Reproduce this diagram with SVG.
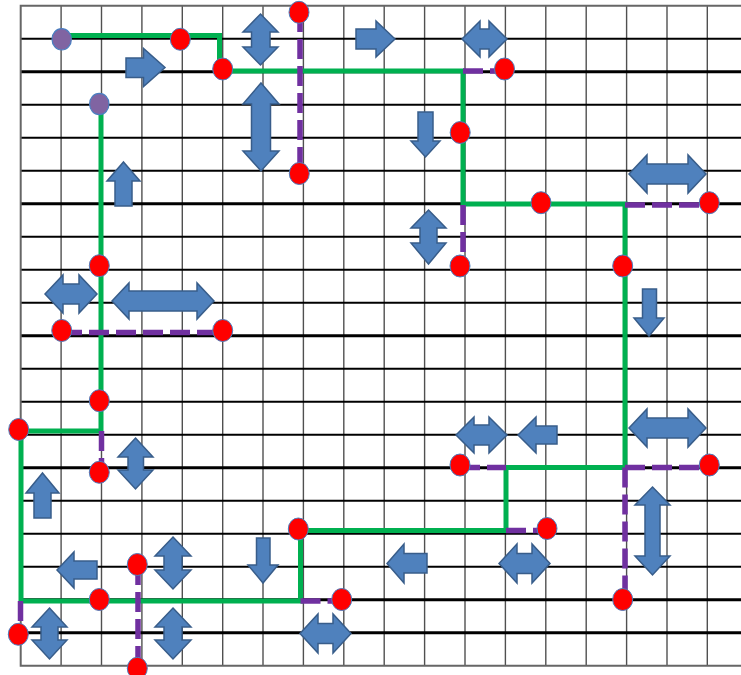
<svg xmlns="http://www.w3.org/2000/svg" width="741" height="675" viewBox="0 0 741 675">
  <defs>
    <style>
      .vline { stroke: #505050; stroke-width: 1.4; }
      .hline { stroke: #000000; stroke-width: 2; }
      .hbold { stroke: #000000; stroke-width: 3; }
      .border { stroke: #666666; stroke-width: 2; fill: none; }
      .route { fill: none; stroke: #00B050; stroke-width: 5; stroke-linejoin: miter; }
      .branch { fill: none; stroke: #7030A0; stroke-width: 5.5; stroke-dasharray: 20 7; }
      .stop { fill: #FF0000; stroke: #4A7EC0; stroke-width: 1; }
      .end { fill: #8064A2; stroke: #4A7EC0; stroke-width: 1.2; }
      .arr { fill: #4F81BD; stroke: #385D8A; stroke-width: 1.5; stroke-linejoin: miter; }
    </style>
  </defs>

  <rect width="741" height="675" fill="#ffffff"/>

  <!-- grid: 18 columns x 20 rows -->
  <g id="grid">
    <g class="vline">
      <line x1="61.1" y1="5.7" x2="61.1" y2="665.7"/>
      <line x1="101.5" y1="5.7" x2="101.5" y2="665.7"/>
      <line x1="141.9" y1="5.7" x2="141.9" y2="665.7"/>
      <line x1="182.3" y1="5.7" x2="182.3" y2="665.7"/>
      <line x1="222.7" y1="5.7" x2="222.7" y2="665.7"/>
      <line x1="263.0" y1="5.7" x2="263.0" y2="665.7"/>
      <line x1="303.4" y1="5.7" x2="303.4" y2="665.7"/>
      <line x1="343.8" y1="5.7" x2="343.8" y2="665.7"/>
      <line x1="384.2" y1="5.7" x2="384.2" y2="665.7"/>
      <line x1="424.6" y1="5.7" x2="424.6" y2="665.7"/>
      <line x1="465.0" y1="5.7" x2="465.0" y2="665.7"/>
      <line x1="505.4" y1="5.7" x2="505.4" y2="665.7"/>
      <line x1="545.8" y1="5.7" x2="545.8" y2="665.7"/>
      <line x1="586.2" y1="5.7" x2="586.2" y2="665.7"/>
      <line x1="626.6" y1="5.7" x2="626.6" y2="665.7"/>
      <line x1="667.0" y1="5.7" x2="667.0" y2="665.7"/>
      <line x1="707.3" y1="5.7" x2="707.3" y2="665.7"/>
    </g>
    <g class="hline">
      <line x1="20.7" y1="38.7" x2="741" y2="38.7"/>
      <line x1="20.7" y1="104.7" x2="741" y2="104.7"/>
      <line x1="20.7" y1="137.7" x2="741" y2="137.7"/>
      <line x1="20.7" y1="170.7" x2="741" y2="170.7"/>
      <line x1="20.7" y1="236.7" x2="741" y2="236.7"/>
      <line x1="20.7" y1="269.7" x2="741" y2="269.7"/>
      <line x1="20.7" y1="302.7" x2="741" y2="302.7"/>
      <line x1="20.7" y1="368.7" x2="741" y2="368.7"/>
      <line x1="20.7" y1="401.7" x2="741" y2="401.7"/>
      <line x1="20.7" y1="434.7" x2="741" y2="434.7"/>
      <line x1="20.7" y1="500.7" x2="741" y2="500.7"/>
      <line x1="20.7" y1="533.7" x2="741" y2="533.7"/>
      <line x1="20.7" y1="566.7" x2="741" y2="566.7"/>
    </g>
    <g class="hbold">
      <line x1="20.7" y1="71.7" x2="741" y2="71.7"/>
      <line x1="20.7" y1="203.7" x2="741" y2="203.7"/>
      <line x1="20.7" y1="335.7" x2="741" y2="335.7"/>
      <line x1="20.7" y1="467.7" x2="741" y2="467.7"/>
      <line x1="20.7" y1="599.7" x2="741" y2="599.7"/>
      <line x1="20.7" y1="632.7" x2="741" y2="632.7"/>
    </g>
    <path class="border" d="M741,5.7 H20.7 V665.7 H741"/>
  </g>

  <!-- connectors: main route and dashed branches -->
  <g id="connectors">
    <path id="route" class="route" d="M62,35.5 H219.5 V71 H463 V204 H625 V467.5 H506 V530.5 H300.5 V601 H21 V431 H101 V104"/>
    <g id="branches">
      <path class="branch" d="M300,12 V174"/>
      <path class="branch" d="M463,71 H505"/>
      <path class="branch" d="M463,205 V266"/>
      <path class="branch" d="M625,205 H709"/>
      <path class="branch" d="M62,332.5 H223"/>
      <path class="branch" d="M101.5,431 V472"/>
      <path class="branch" d="M20.5,601 V634"/>
      <path class="branch" d="M138,565 V668"/>
      <path class="branch" d="M300.5,601 H342"/>
      <path class="branch" d="M460,467.5 H506"/>
      <path class="branch" d="M506,530.5 H547"/>
      <path class="branch" d="M625,467.5 H709"/>
      <path class="branch" d="M625,467.5 V599"/>
    </g>
  </g>

  <!-- route ends -->
  <g id="end-a"><ellipse class="end" cx="61.7" cy="39.3" rx="9.7" ry="10.7"/></g>
  <g id="end-b"><ellipse class="end" cx="99.3" cy="104" rx="9.7" ry="10.7"/></g>

  <!-- stops -->
  <g id="stop-1"><ellipse class="stop" cx="180.3" cy="39.3" rx="10" ry="11"/></g>
  <g id="stop-2"><ellipse class="stop" cx="222.7" cy="69" rx="10" ry="11"/></g>
  <g id="stop-3"><ellipse class="stop" cx="299" cy="12.3" rx="10" ry="11"/></g>
  <g id="stop-4"><ellipse class="stop" cx="299.3" cy="173.5" rx="10" ry="11"/></g>
  <g id="stop-5"><ellipse class="stop" cx="504.5" cy="69" rx="10" ry="11"/></g>
  <g id="stop-6"><ellipse class="stop" cx="460.2" cy="132.5" rx="10" ry="11"/></g>
  <g id="stop-7"><ellipse class="stop" cx="541" cy="202.7" rx="10" ry="11"/></g>
  <g id="stop-8"><ellipse class="stop" cx="709.3" cy="202.7" rx="10" ry="11"/></g>
  <g id="stop-9"><ellipse class="stop" cx="460" cy="266" rx="10" ry="11"/></g>
  <g id="stop-10"><ellipse class="stop" cx="622.7" cy="266" rx="10" ry="11"/></g>
  <g id="stop-11"><ellipse class="stop" cx="99.3" cy="265.7" rx="10" ry="11"/></g>
  <g id="stop-12"><ellipse class="stop" cx="61.7" cy="330.5" rx="10" ry="11"/></g>
  <g id="stop-13"><ellipse class="stop" cx="222.7" cy="330.5" rx="10" ry="11"/></g>
  <g id="stop-14"><ellipse class="stop" cx="99.3" cy="400.7" rx="10" ry="11"/></g>
  <g id="stop-15"><ellipse class="stop" cx="18.7" cy="429.5" rx="10" ry="11"/></g>
  <g id="stop-16"><ellipse class="stop" cx="99.3" cy="472.3" rx="10" ry="11"/></g>
  <g id="stop-17"><ellipse class="stop" cx="460" cy="465" rx="10" ry="11"/></g>
  <g id="stop-18"><ellipse class="stop" cx="709.3" cy="465" rx="10" ry="11"/></g>
  <g id="stop-19"><ellipse class="stop" cx="547" cy="528.5" rx="10" ry="11"/></g>
  <g id="stop-20"><ellipse class="stop" cx="298.3" cy="529" rx="10" ry="11"/></g>
  <g id="stop-21"><ellipse class="stop" cx="137.3" cy="564.5" rx="10" ry="11"/></g>
  <g id="stop-22"><ellipse class="stop" cx="99.3" cy="599.5" rx="10" ry="11"/></g>
  <g id="stop-23"><ellipse class="stop" cx="341.7" cy="599.5" rx="10" ry="11"/></g>
  <g id="stop-24"><ellipse class="stop" cx="622.7" cy="599.5" rx="10" ry="11"/></g>
  <g id="stop-25"><ellipse class="stop" cx="18.3" cy="634.3" rx="10" ry="11"/></g>
  <g id="stop-26"><ellipse class="stop" cx="137.3" cy="668.3" rx="10" ry="11"/></g>

  <!-- block arrows -->
  <g id="arrows" class="arr">
    <path id="arrow-1" d="M126,58 H143.5 V48.5 L165,67.5 L143.5,86.5 V77.5 H126 Z"/>
    <path id="arrow-2" d="M260.5,14 L278,32 H270 V47 H278 L260.5,65 L243,47 H251.5 V32 H243 Z"/>
    <path id="arrow-3" d="M261,83 L279,104 H270.5 V151 H279 L261,171 L243,151 H251.5 V104 H243 Z"/>
    <path id="arrow-4" d="M123.5,162 L140,181 H132 V206 H115 V181 H107 Z"/>
    <path id="arrow-5" d="M356,29 H376 V21 L395,39 L376,57 V49 H356 Z"/>
    <path id="arrow-6" d="M462,39 L480,21 V29 H489 V21 L507,39 L489,57 V49 H480 V57 Z"/>
    <path id="arrow-7" d="M418,112 H433 V141 H440 L425.5,157 L411,141 H418 Z"/>
    <path id="arrow-8" d="M629,174 L647,155 V164 H688 V155 L706,174 L688,193 V184 H647 V193 Z"/>
    <path id="arrow-9" d="M428.5,210 L446,228 H437 V243 H446 L428.5,264 L411,243 H420 V228 H411 Z"/>
    <path id="arrow-10" d="M642.5,289 H656.5 V318 H664 L649,336 L634,318 H642.5 Z"/>
    <path id="arrow-11" d="M45,294 L63,275 V284 H79 V275 L97,294 L79,313 V304 H63 V313 Z"/>
    <path id="arrow-12" d="M112,301 L129,283 V291 H197 V283 L214,301 L197,319 V311 H129 V319 Z"/>
    <path id="arrow-13" d="M456,435 L474,417 V425 H489 V417 L507,435 L489,453 V445 H474 V453 Z"/>
    <path id="arrow-14" d="M518,435 L536,417 V426 H557 V444 H536 V453 Z"/>
    <path id="arrow-15" d="M629,428 L647,409 V418 H688 V409 L706,428 L688,447 V438 H647 V447 Z"/>
    <path id="arrow-16" d="M135.5,438 L153,457 H143.5 V470 H153 L135.5,489 L118,470 H128 V457 H118 Z"/>
    <path id="arrow-17" d="M42.5,473 L59,493 H51 V518 H34 V493 H26 Z"/>
    <path id="arrow-18" d="M57,570 L74,552 V561 H97 V579 H74 V588 Z"/>
    <path id="arrow-19" d="M173,537 L191,556 H182 V570 H191 L173,589 L155,570 H164 V556 H155 Z"/>
    <path id="arrow-20" d="M256.5,538 H270 V565 H278 L263,583 L248,565 H256.5 Z"/>
    <path id="arrow-21" d="M49.5,608 L67,627 H58 V640 H67 L49.5,659 L32,640 H41 V627 H32 Z"/>
    <path id="arrow-22" d="M173,608 L191,627 H182 V640 H191 L173,659 L155,640 H164 V627 H155 Z"/>
    <path id="arrow-23" d="M300,633.5 L318,614 V623.5 H333 V614 L351,633.5 L333,653 V643.5 H318 V653 Z"/>
    <path id="arrow-24" d="M387,563.5 L404,544 V553.5 H427 V573 H404 V583 Z"/>
    <path id="arrow-25" d="M499,563.5 L517,544 V553.5 H532 V544 L550,563.5 L532,583 V573.5 H517 V583 Z"/>
    <path id="arrow-26" d="M652.5,487 L670,505 H660 V556 H670 L652.5,575 L635,556 H645 V505 H635 Z"/>
  </g>
</svg>
